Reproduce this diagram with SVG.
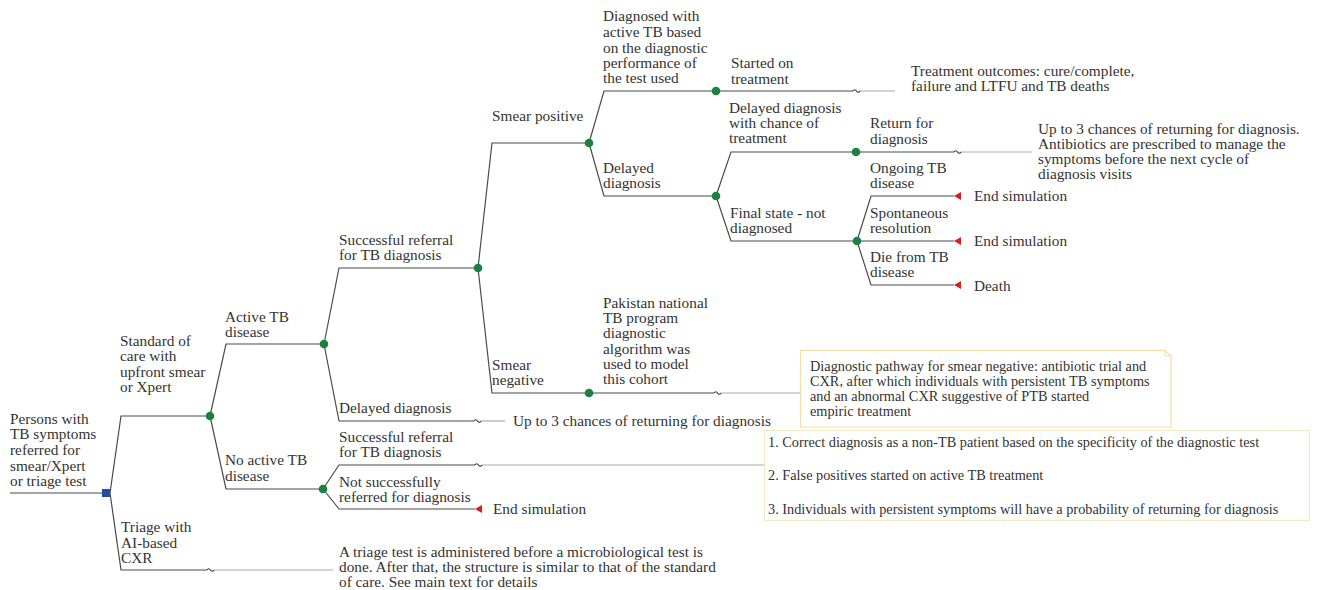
<svg xmlns="http://www.w3.org/2000/svg" width="1317" height="590" viewBox="0 0 1317 590">
<defs>
<style>
text{font-family:"Liberation Serif","Times New Roman",serif;font-size:15.3px;fill:#333}
.bx{font-size:14.3px}
.ln{fill:none;stroke:#4a4a4a;stroke-width:1.2}
.gr{fill:none;stroke:#aaa;stroke-width:1.2}
.tl{fill:none;stroke:#333;stroke-width:1.2}
.dot{fill:#18823f}
.end{fill:#d81e1e}
</style>
<path id="tri" d="M0 0 L7 -4 L7 4 Z"/>
</defs>
<rect width="1317" height="590" fill="#fff"/>
<g id="connectors">
<path class="ln" d="M10 493 H102"/>
<path class="ln" d="M110 493 L121 416 H210"/>
<path class="ln" d="M110 493 L121 570 H207"/>
<path class="gr" d="M214 570 H333"/>
<path class="ln" d="M210 416 L226 344 H324"/>
<path class="ln" d="M210 416 L226 489 H323"/>
<path class="ln" d="M324 344 L339 268 H478"/>
<path class="ln" d="M324 344 L339 421 H474"/>
<path class="gr" d="M481 421 H505"/>
<path class="ln" d="M323 489 L339 465 H475"/>
<path class="gr" d="M482 465 H764"/>
<path class="ln" d="M323 489 L339 509 H475"/>
<path class="ln" d="M478 268 L492 143 H589"/>
<path class="ln" d="M478 268 L492 393 H589"/>
<path class="ln" d="M589 143 L604 91 H716"/>
<path class="ln" d="M589 143 L604 196 H716"/>
<path class="ln" d="M589 393 H714"/>
<path class="gr" d="M721 393 H800"/>
<path class="ln" d="M716 91 H853"/>
<path class="gr" d="M860 91 H895"/>
<path class="ln" d="M716 196 L731 152 H856"/>
<path class="ln" d="M716 196 L731 241 H857"/>
<path class="ln" d="M856 152 H954"/>
<path class="gr" d="M961 152 H1032"/>
<path class="ln" d="M857 241 L871 196 H954"/>
<path class="ln" d="M857 241 H954"/>
<path class="ln" d="M857 241 L871 285 H954"/>
<path class="tl" d="M207 570 q1.7 -2.5 3.5 0 t3.5 0"/>
<path class="tl" d="M474 421 q1.7 -2.5 3.5 0 t3.5 0"/>
<path class="tl" d="M475 465 q1.7 -2.5 3.5 0 t3.5 0"/>
<path class="tl" d="M714 393 q1.7 -2.5 3.5 0 t3.5 0"/>
<path class="tl" d="M853 91 q1.7 -2.5 3.5 0 t3.5 0"/>
<path class="tl" d="M954 152 q1.7 -2.5 3.5 0 t3.5 0"/>
</g>
<g id="root">
<rect x="102" y="489" width="8" height="8" fill="#1f4ea3"/>
<text x="10" y="424">Persons with</text>
<text x="10" y="439">TB symptoms</text>
<text x="10" y="455">referred for</text>
<text x="10" y="471">smear/Xpert</text>
<text x="10" y="486">or triage test</text>
</g>
<g id="standard-of-care">
<circle class="dot" cx="210" cy="416" r="4.3"/>
<text x="120" y="346">Standard of</text>
<text x="120" y="361">care with</text>
<text x="120" y="377">upfront smear</text>
<text x="120" y="392">or Xpert</text>
</g>
<g id="triage">
<text x="121" y="532">Triage with</text>
<text x="121" y="548">AI-based</text>
<text x="121" y="563">CXR</text>
<text x="339" y="557">A triage test is administered before a microbiological test is</text>
<text x="339" y="572">done. After that, the structure is similar to that of the standard</text>
<text x="339" y="587">of care. See main text for details</text>
</g>
<g id="active-tb">
<circle class="dot" cx="324" cy="344" r="4.3"/>
<text x="225" y="322">Active TB</text>
<text x="225" y="337">disease</text>
</g>
<g id="no-active-tb">
<circle class="dot" cx="323" cy="489" r="4.3"/>
<text x="225" y="465">No active TB</text>
<text x="225" y="481">disease</text>
</g>
<g id="successful-referral">
<circle class="dot" cx="478" cy="268" r="4.3"/>
<text x="339" y="245">Successful referral</text>
<text x="339" y="260">for TB diagnosis</text>
</g>
<g id="delayed-diagnosis-1">
<text x="339" y="413">Delayed diagnosis</text>
<text x="513" y="426">Up to 3 chances of returning for diagnosis</text>
</g>
<g id="no-tb-referral">
<text x="339" y="442">Successful referral</text>
<text x="339" y="457">for TB diagnosis</text>
</g>
<g id="no-tb-not-referred">
<text x="339" y="487">Not successfully</text>
<text x="339" y="502">referred for diagnosis</text>
<use href="#tri" x="475" y="509" class="end"/>
<text x="493" y="514">End simulation</text>
</g>
<g id="smear-positive">
<circle class="dot" cx="589" cy="143" r="4.3"/>
<text x="492" y="121">Smear positive</text>
</g>
<g id="smear-negative">
<circle class="dot" cx="589" cy="393" r="4.3"/>
<text x="492" y="370">Smear</text>
<text x="492" y="385">negative</text>
<text x="603" y="308">Pakistan national</text>
<text x="603" y="323">TB program</text>
<text x="603" y="338">diagnostic</text>
<text x="603" y="354">algorithm was</text>
<text x="603" y="369">used to model</text>
<text x="603" y="384">this cohort</text>
</g>
<g id="diagnosed">
<circle class="dot" cx="716" cy="91" r="4.3"/>
<text x="603" y="21">Diagnosed with</text>
<text x="603" y="37">active TB based</text>
<text x="603" y="53">on the diagnostic</text>
<text x="603" y="68">performance of</text>
<text x="603" y="83">the test used</text>
</g>
<g id="started-treatment">
<text x="731" y="68">Started on</text>
<text x="731" y="84">treatment</text>
<text x="911" y="76">Treatment outcomes: cure/complete,</text>
<text x="911" y="91">failure and LTFU and TB deaths</text>
</g>
<g id="delayed-diagnosis-2">
<circle class="dot" cx="716" cy="196" r="4.3"/>
<text x="603" y="173">Delayed</text>
<text x="603" y="188">diagnosis</text>
</g>
<g id="delayed-chance">
<circle class="dot" cx="856" cy="152" r="4.3"/>
<text x="729" y="113">Delayed diagnosis</text>
<text x="729" y="128">with chance of</text>
<text x="729" y="143">treatment</text>
</g>
<g id="return-diagnosis">
<text x="870" y="128">Return for</text>
<text x="870" y="144">diagnosis</text>
<text x="1038" y="134">Up to 3 chances of returning for diagnosis.</text>
<text x="1038" y="149">Antibiotics are prescribed to manage the</text>
<text x="1038" y="164">symptoms before the next cycle of</text>
<text x="1038" y="179">diagnosis visits</text>
</g>
<g id="final-state">
<circle class="dot" cx="857" cy="241" r="4.3"/>
<text x="730" y="218">Final state - not</text>
<text x="730" y="233">diagnosed</text>
</g>
<g id="ongoing">
<text x="870" y="173">Ongoing TB</text>
<text x="870" y="188">disease</text>
<use href="#tri" x="954" y="196" class="end"/>
<text x="974" y="201">End simulation</text>
</g>
<g id="spontaneous">
<text x="870" y="218">Spontaneous</text>
<text x="870" y="233">resolution</text>
<use href="#tri" x="954" y="241" class="end"/>
<text x="974" y="246">End simulation</text>
</g>
<g id="die">
<text x="870" y="262">Die from TB</text>
<text x="870" y="277">disease</text>
<use href="#tri" x="954" y="285" class="end"/>
<text x="974" y="291">Death</text>
</g>
<g id="note-smear-negative">
<path d="M800.5 350.5 H1165 L1171 356 V427 H800.5 Z" fill="#fff" stroke="#f6dca6" stroke-width="1.2"/>
<path d="M1165 350.5 V356 H1171" fill="none" stroke="#f6dca6" stroke-width="1"/>
<text class="bx" x="810" y="371">Diagnostic pathway for smear negative: antibiotic trial and</text>
<text class="bx" x="810" y="386">CXR, after which individuals with persistent TB symptoms</text>
<text class="bx" x="810" y="401">and an abnormal CXR suggestive of PTB started</text>
<text class="bx" x="810" y="416">empiric treatment</text>
</g>
<g id="note-no-tb">
<rect x="764.5" y="430.5" width="545" height="90" fill="#fff" stroke="#f2ebc2" stroke-width="1.2"/>
<text class="bx" x="768" y="447">1. Correct diagnosis as a non-TB patient based on the specificity of the diagnostic test</text>
<text class="bx" x="768" y="480">2. False positives started on active TB treatment</text>
<text class="bx" x="768" y="514">3. Individuals with persistent symptoms will have a probability of returning for diagnosis</text>
</g>
</svg>
